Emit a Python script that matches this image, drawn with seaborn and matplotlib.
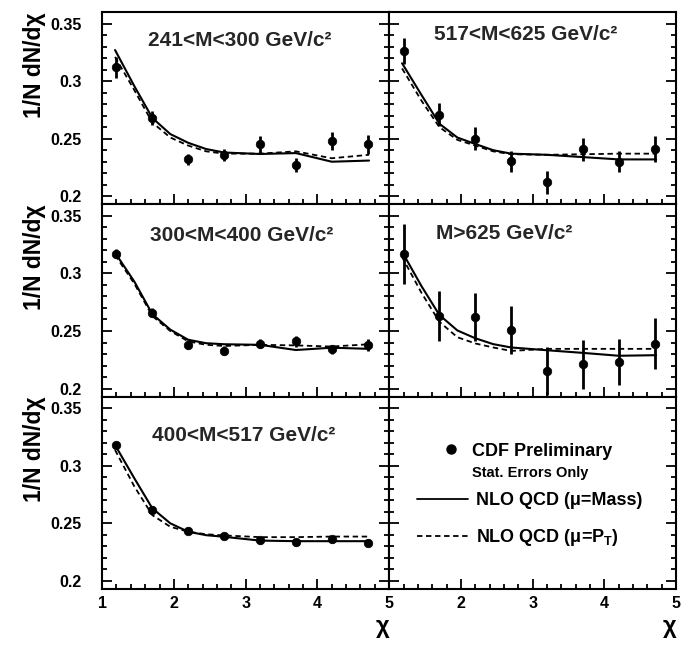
import matplotlib
matplotlib.use("Agg")
import matplotlib.pyplot as plt
import seaborn as sns
import pandas as pd
from matplotlib.lines import Line2D
from matplotlib.ticker import FixedLocator, MultipleLocator

sns.set_theme(style="white")
plt.rcParams["font.family"] = ["Liberation Sans", "DejaVu Sans"]
plt.rcParams["font.weight"] = "bold"
plt.rcParams["mathtext.fontset"] = "custom"
plt.rcParams["mathtext.rm"] = "Liberation Sans:bold"
plt.rcParams["mathtext.default"] = "rm"

# ---------------- data ----------------
chi_points = [1.2, 1.7, 2.2, 2.7, 3.2, 3.7, 4.2, 4.7]
chi_curve = [1.18, 1.45, 1.7, 1.95, 2.2, 2.45, 2.7, 3.2, 3.7, 4.2, 4.72]

titles = ["241<M<300 GeV/c²", "517<M<625 GeV/c²", "300<M<400 GeV/c²",
          "M>625 GeV/c²", "400<M<517 GeV/c²"]

cdf_241_300 = [0.312, 0.268, 0.232, 0.236, 0.245, 0.227, 0.248, 0.245]
err_241_300 = [0.009, 0.006, 0.005, 0.005, 0.007, 0.006, 0.008, 0.008]
mass_241_300 = [0.327, 0.2955, 0.268, 0.254, 0.2464, 0.241, 0.238, 0.2367, 0.2375, 0.230, 0.231]
pt_241_300 = [0.321, 0.292, 0.264, 0.251, 0.244, 0.239, 0.237, 0.237, 0.239, 0.233, 0.236]

cdf_517_625 = [0.326, 0.271, 0.250, 0.2305, 0.212, 0.241, 0.230, 0.241]
err_517_625 = [0.011, 0.010, 0.010, 0.009, 0.010, 0.010, 0.009, 0.011]
mass_517_625 = [0.3155, 0.288, 0.263, 0.251, 0.2454, 0.240, 0.237, 0.236, 0.234, 0.232, 0.232]
pt_517_625 = [0.311, 0.283, 0.260, 0.249, 0.244, 0.239, 0.2365, 0.236, 0.2365, 0.237, 0.237]

cdf_300_400 = [0.317, 0.266, 0.238, 0.233, 0.239, 0.241, 0.234, 0.238]
err_300_400 = [0.004, 0.004, 0.004, 0.004, 0.004, 0.005, 0.004, 0.005]
mass_300_400 = [0.318, 0.2928, 0.2646, 0.2512, 0.2424, 0.2394, 0.2385, 0.238, 0.2335, 0.2355, 0.2345]
pt_300_400 = [0.316, 0.291, 0.263, 0.250, 0.241, 0.238, 0.237, 0.238, 0.2375, 0.2365, 0.2385]

cdf_625 = [0.317, 0.263, 0.262, 0.251, 0.215, 0.221, 0.223, 0.239]
err_625 = [0.026, 0.022, 0.021, 0.021, 0.021, 0.021, 0.020, 0.022]
mass_625 = [0.3188, 0.289, 0.2639, 0.2505, 0.2437, 0.2386, 0.2357, 0.2333, 0.231, 0.2285, 0.229]
pt_625 = [0.3143, 0.2832, 0.258, 0.2446, 0.2392, 0.2357, 0.2327, 0.2345, 0.2345, 0.2345, 0.2345]

cdf_400_517 = [0.318, 0.262, 0.2435, 0.239, 0.2354, 0.2334, 0.236, 0.233]
err_400_517 = [0.003, 0.003, 0.003, 0.003, 0.003, 0.003, 0.003, 0.003]
mass_400_517 = [0.318, 0.289, 0.263, 0.250, 0.2427, 0.2397, 0.2383, 0.235, 0.2345, 0.2345, 0.2345]
pt_400_517 = [0.3137, 0.2819, 0.2571, 0.247, 0.2427, 0.2405, 0.2395, 0.238, 0.238, 0.2385, 0.2385]

y_ticks = [0.2, 0.25, 0.3, 0.35]
y_ticklabels = ["0.2", "0.25", "0.3", "0.35"]
x_ticks = [1, 2, 3, 4, 5]
x_ticklabels_left = ["1", "2", "3", "4", "5"]
x_ticklabels_right = ["", "2", "3", "4", "5"]

legend_data_labels = ["CDF Preliminary", "Stat. Errors Only"]
legend_theory_labels = ["NLO QCD (μ=Mass)", "NLO QCD (μ=P$_T$)"]

panels = [
    (0, 0, titles[0], cdf_241_300, err_241_300, mass_241_300, pt_241_300, (0.16, 0.85)),
    (0, 1, titles[1], cdf_517_625, err_517_625, mass_517_625, pt_517_625, (0.157, 0.885)),
    (1, 0, titles[2], cdf_300_400, err_300_400, mass_300_400, pt_300_400, (0.167, 0.84)),
    (1, 1, titles[3], cdf_625, err_625, mass_625, pt_625, (0.164, 0.85)),
    (2, 0, titles[4], cdf_400_517, err_400_517, mass_400_517, pt_400_517, (0.174, 0.80)),
]

# ---------------- figure ----------------
fig, axes = plt.subplots(3, 2, figsize=(6.9, 6.49), dpi=100,
                         gridspec_kw=dict(hspace=0, wspace=0))
fig.subplots_adjust(left=0.148, right=0.980, top=0.9815, bottom=0.0925)

for r, c, title, vals, errs, mass, pt, tpos in panels:
    ax = axes[r, c]
    curve = pd.DataFrame({"chi": chi_curve, "mass": mass, "pt": pt})
    sns.lineplot(data=curve, x="chi", y="mass", ax=ax, color="black",
                 lw=1.5, estimator=None, sort=False)
    sns.lineplot(data=curve, x="chi", y="pt", ax=ax, color="black",
                 lw=1.3, estimator=None, sort=False, linestyle=(0, (3, 2)))
    pts = pd.DataFrame({"chi": chi_points, "val": vals, "err": errs})
    ax.errorbar(pts["chi"], pts["val"], yerr=pts["err"], fmt="none",
                ecolor="black", elinewidth=2.0, capsize=0, zorder=3)
    sns.scatterplot(data=pts, x="chi", y="val", ax=ax, color="black",
                    s=38, edgecolor="black", zorder=4)
    ax.text(tpos[0], tpos[1], title, transform=ax.transAxes, fontsize=15,
            fontweight="bold", va="center", ha="left")

for r in range(3):
    for c in range(2):
        ax = axes[r, c]
        ax.set_xlim(1, 5)
        ax.set_ylim(0.193, 0.36)
        ax.xaxis.set_major_locator(FixedLocator(x_ticks))
        ax.xaxis.set_minor_locator(MultipleLocator(0.2))
        ax.yaxis.set_major_locator(FixedLocator(y_ticks))
        ax.yaxis.set_minor_locator(MultipleLocator(0.01))
        ax.set_xticklabels(x_ticklabels_left if c == 0 else x_ticklabels_right)
        ax.set_yticklabels(y_ticklabels)
        ax.tick_params(which="both", direction="in", left=True, right=True,
                       bottom=True, top=False, color="black", width=1.3,
                       labelleft=(c == 0), labelbottom=(r == 2),
                       labelsize=11.5, labelcolor="black")
        ax.tick_params(axis="y", which="major", length=7, pad=15)
        ax.tick_params(axis="y", which="minor", length=3.5)
        ax.tick_params(axis="x", which="major", length=7, pad=5)
        ax.tick_params(axis="x", which="minor", length=3.5)
        for s in ax.spines.values():
            s.set_color("black")
            s.set_linewidth(1.5)
        ax.set_xlabel("")
        ax.set_ylabel("")
        if c == 0:
            ax.set_ylabel("1/N dN/dχ", loc="top", fontsize=16.5,
                          fontweight="bold", color="black", labelpad=3)
        if r == 2:
            ax.set_xlabel("χ", loc="right", fontsize=17, fontweight="bold",
                          color="black", labelpad=3)

# legend panel
lax = axes[2, 1]
data_handles = [
    Line2D([], [], marker="o", ls="none", color="black", ms=6.5),
    Line2D([], [], ls="none"),
]
leg1 = lax.legend(data_handles, legend_data_labels, loc="upper left",
                  bbox_to_anchor=(0.185, 0.76), frameon=False, borderpad=0,
                  borderaxespad=0, handlelength=1.0, handletextpad=0.65,
                  labelspacing=0.26, fontsize=13)
for t in leg1.get_texts():
    t.set_fontweight("bold")
    t.set_color("black")
leg1.get_texts()[1].set_fontsize(10.5)
lax.add_artist(leg1)

theory_handles = [
    Line2D([], [], color="black", lw=1.3),
    Line2D([], [], color="black", lw=1.3, ls=(0, (3, 2))),
]
leg2 = lax.legend(theory_handles, legend_theory_labels, loc="upper left",
                  bbox_to_anchor=(0.098, 0.505), frameon=False, borderpad=0,
                  borderaxespad=0, handlelength=2.8, handletextpad=0.45,
                  labelspacing=1.0, fontsize=13)
for t in leg2.get_texts():
    t.set_fontweight("bold")
    t.set_color("black")

fig.savefig("out.png", dpi=100, facecolor="white")
